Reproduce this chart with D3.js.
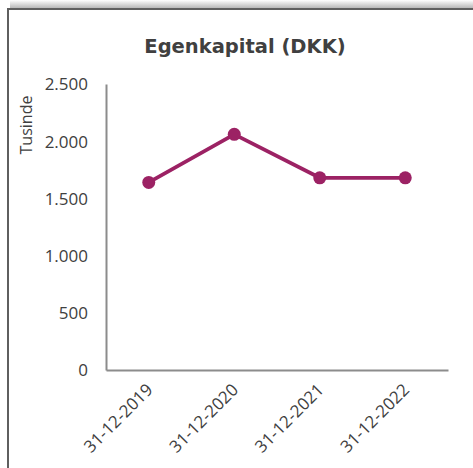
<!DOCTYPE html>
<html>
<head>
<meta charset="utf-8">
<script src="https://cdn.jsdelivr.net/npm/d3@7"></script>
<style>
  body { margin: 0; background: #fff; }
  svg { display: block; }
</style>
</head>
<body>
<svg id="chart" width="473" height="468"></svg>
<script>
// data
var dates = ["31-12-2019", "31-12-2020", "31-12-2021", "31-12-2022"];
var values = [1640, 2060, 1680, 1680];
var yTicks = [0, 500, 1000, 1500, 2000, 2500];

var svg = d3.select("#chart");
var lineColor = "#9c2264";

// frame + shadow at top
var defs = svg.append("defs");
var grad = defs.append("linearGradient").attr("id", "shade")
    .attr("x1", 0).attr("y1", 0).attr("x2", 0).attr("y2", 1);
grad.append("stop").attr("offset", "0%").attr("stop-color", "#fff");
grad.append("stop").attr("offset", "100%").attr("stop-color", "#b8b8b8");
svg.append("rect").attr("x", 10).attr("y", 0).attr("width", 463).attr("height", 8)
   .attr("fill", "url(#shade)");
svg.append("path")
   .attr("d", "M8,468 V9 H473")
   .attr("fill", "none").attr("stroke", "#5f5f5f").attr("stroke-width", 2);

var m = {left: 106, top: 84, right: 448, bottom: 370};

var x = d3.scaleBand().domain(dates).range([m.left, m.right]);
var y = d3.scaleLinear().domain([0, 2500]).range([m.bottom, m.top]);

// title
svg.append("text")
   .attr("x", 245).attr("y", 53)
   .attr("text-anchor", "middle")
   .style("font-family", "'DejaVu Sans', sans-serif")
   .style("font-size", "19.5px").style("font-weight", "bold")
   .style("fill", "#404040")
   .text("Egenkapital (DKK)");

// y axis title
svg.append("text")
   .attr("transform", "translate(32,125) rotate(-90)")
   .attr("text-anchor", "middle")
   .style("font-family", "'Open Sans', sans-serif")
   .style("font-size", "16px").style("fill", "#404040")
   .text("Tusinde");

// y axis
var fmt = function(d) { return d3.format(",")(d).replace(/,/g, "."); };
var gy = svg.append("g").attr("class", "axis axis--y")
   .attr("transform", "translate(" + m.left + ",0)")
   .call(d3.axisLeft(y).tickValues(yTicks).tickFormat(fmt).tickSize(0).tickPadding(18));
gy.select(".domain").attr("stroke", "#8c8c8c").attr("stroke-width", 2);
gy.selectAll("text").attr("dy", "0.35em");

// x axis
var gx = svg.append("g").attr("class", "axis axis--x")
   .attr("transform", "translate(0," + m.bottom + ")")
   .call(d3.axisBottom(x).tickSize(0).tickPadding(0));
gx.select(".domain").attr("stroke", "#8c8c8c").attr("stroke-width", 2);
gx.selectAll("text")
   .attr("text-anchor", "end")
   .attr("dy", 0).attr("y", 0)
   .attr("transform", "translate(5,21) rotate(-45)");

svg.selectAll(".axis").attr("font-size", null).attr("font-family", null);
svg.selectAll(".axis text")
   .style("font-family", "'Open Sans', sans-serif")
   .style("font-size", "17px")
   .style("fill", "#404040");

// line + markers
var cx = function(d, i) { return x(dates[i]) + x.bandwidth() / 2; };
var line = d3.line().x(cx).y(function(d) { return y(d); });

svg.append("path").datum(values)
   .attr("d", line)
   .attr("fill", "none").attr("stroke", lineColor)
   .attr("stroke-width", 3.8).attr("stroke-linejoin", "round");

svg.selectAll("circle.pt").data(values).enter()
   .append("circle").attr("class", "pt")
   .attr("cx", cx).attr("cy", function(d) { return y(d); })
   .attr("r", 6.5).attr("fill", lineColor);
</script>
</body>
</html>
